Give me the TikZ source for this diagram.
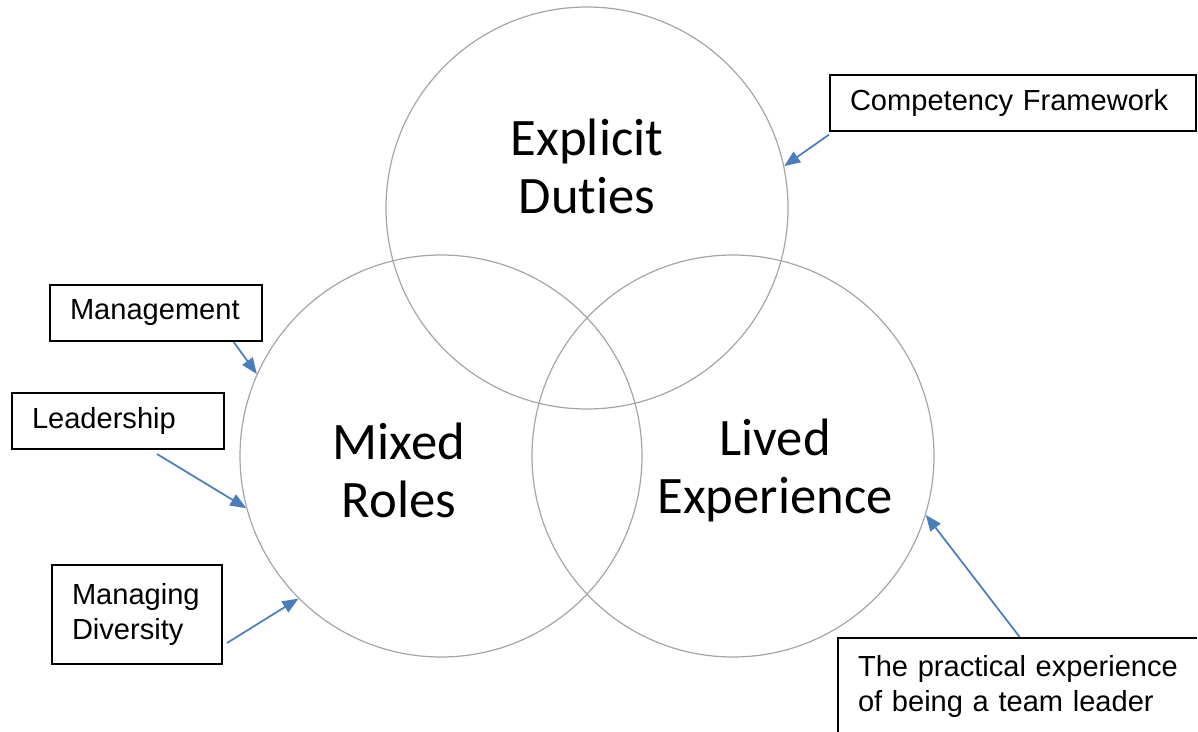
\documentclass[tikz,border=0pt]{standalone}
\usepackage{fontspec}
\setmainfont{Liberation Sans}
\newfontfamily\vennfont[Ligatures=NoCommon]{Carlito}
\usetikzlibrary{arrows.meta}
\definecolor{arrowblue}{RGB}{74,126,187}
\definecolor{ringgray}{RGB}{165,165,165}

\tikzset{
  ring/.style={circle, draw=ringgray, line width=0.9pt, minimum size=301.5pt, inner sep=0pt},
  ringtext/.style={font=\vennfont\fontsize{39.5}{43.5}\selectfont, align=center},
  tagbox/.style={draw, line width=1.5pt, anchor=north west, align=left,
    inner xsep=15pt, inner ysep=0pt, font=\fontsize{21.8}{25.8}\selectfont},
  pointer/.style={arrowblue, line width=1.3pt, -{Triangle[length=12pt,width=9.5pt]}}
}

\begin{document}
\begin{tikzpicture}[x=0.75pt,y=-0.75pt]
\useasboundingbox (0,0) rectangle (1198,731);
\clip (-10,-10) rectangle (1196.8,731);

% Rings
\node[ring] (duties) at (587,208) {};
\node[ring] (mixed) at (441,456) {};
\node[ring] (lived) at (733,456) {};

% Ring titles
\node[ringtext] (dutiestitle) at (587,166) {Explicit\\Duties};
\node[ringtext] (mixedtitle) at (399,470) {Mixed\\Roles};
\node[ringtext] (livedtitle) at (775,470) {Lived\\Experience};

% Boxes
\node[tagbox, text width=244.5pt, minimum height=42pt] (comp) at (829,74) {Competency Framework};
\node[tagbox, text width=129pt, minimum height=42pt] (mgmt) at (49,284) {Management};
\node[tagbox, text width=129pt, minimum height=42pt] (lead) at (11,392) {Leadership};
\node[tagbox, text width=97.5pt, minimum height=74.25pt] (diversity) at (51,564) {Managing\\Diversity};
\node[tagbox, text width=290pt, minimum height=73pt] (practice) at (837,637) {The practical experience\\of being a team leader};

% Arrows
\draw[pointer] ([yshift=-2pt]comp.south west) -- (duties.12);
\draw[pointer] ([xshift=-22pt]mgmt.south east) -- (mixed.156);
\draw[pointer] ([xshift=-51pt,yshift=-3pt]lead.south east) -- (mixed.195);
\draw[pointer] ([xshift=3pt,yshift=16.5pt]diversity.south east) -- (mixed.225);
\draw[pointer] ([xshift=137pt]practice.north west) -- (lived.343);

\end{tikzpicture}
\end{document}
